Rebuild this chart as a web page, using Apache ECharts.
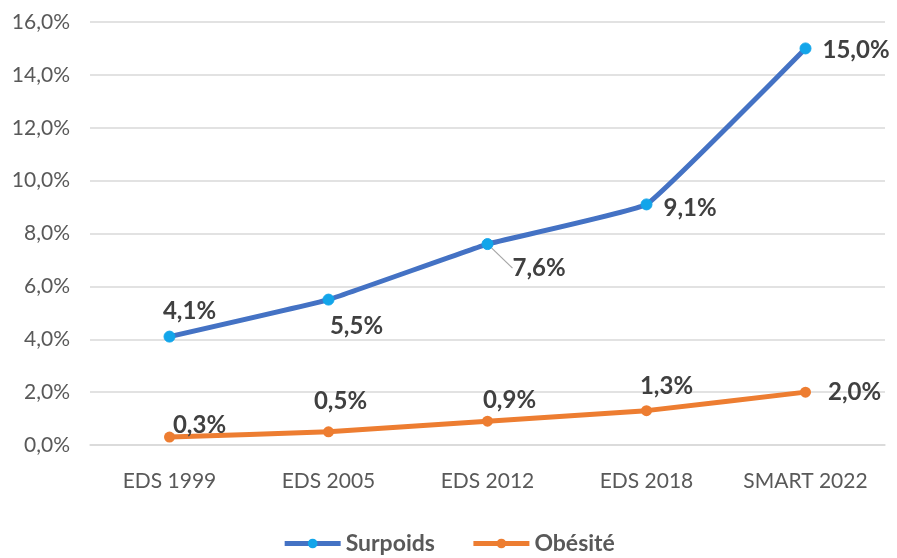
<!DOCTYPE html>
<html><head><meta charset="utf-8">
<script src="https://cdn.jsdelivr.net/npm/echarts@6/dist/echarts.min.js"></script>
<style>html,body{margin:0;padding:0;background:#fff}#c{width:897px;height:558px}</style>
</head><body><div id="c"></div>
<script>
const categories = ['EDS 1999','EDS 2005','EDS 2012','EDS 2018','SMART 2022'];
const surpoids = [4.1, 5.5, 7.6, 9.1, 15.0];
const obesite = [0.3, 0.5, 0.9, 1.3, 2.0];
const yTicks = {min: 0, max: 16, interval: 2};

const fmt = v => v.toFixed(1).replace('.', ',') + '%';
const FONT = 'Lato';
// per-point label placements (position + shift in px)
const surpLabel = [
  {position:'top', dx:20, dy:-2},
  {position:'bottom', dx:28, dy:4},
  {position:'right', dx:14, dy:24},
  {position:'right', dx:6, dy:4},
  {position:'right', dx:6, dy:2}
];
const obLabel = [
  {position:'top', dx:30, dy:11},
  {position:'top', dx:12, dy:-8},
  {position:'top', dx:22, dy:2},
  {position:'top', dx:20, dy:-2},
  {position:'right', dx:12, dy:0}
];
const chart = echarts.init(document.getElementById('c'));
const lblBase = {show:true, color:'#404040', fontWeight:'bold', fontSize:24, fontFamily:FONT,
  formatter: p => fmt(p.value)};
chart.setOption({
  animation:false,
  grid:{left:90, right:12, top:22, bottom:113},
  legend:{bottom:-2, left:'center', itemWidth:56, itemHeight:12, itemGap:36,
    lineStyle:{width:5},
    textStyle:{color:'#595959', fontSize:23, fontWeight:'bold', fontFamily:FONT},
    data:['Surpoids','Obésité']},
  xAxis:{type:'category', data:categories, boundaryGap:true,
    axisLine:{show:true, lineStyle:{color:'#D9D9D9', width:1.5}}, axisTick:{show:false},
    axisLabel:{color:'#595959', fontSize:21, fontFamily:FONT, margin:26, interval:0}},
  yAxis:{type:'value', min:yTicks.min, max:yTicks.max, interval:yTicks.interval,
    axisLine:{show:false}, axisTick:{show:false},
    splitLine:{lineStyle:{color:'#D9D9D9', width:1.5}},
    axisLabel:{color:'#595959', fontSize:21, fontFamily:FONT, margin:20, formatter: v => fmt(v)}},
  series:[
    {name:'Surpoids', type:'line', smooth:0.08, symbol:'circle', symbolSize:11,
      lineStyle:{color:'#4472C4', width:5}, itemStyle:{color:'#12A5EA', borderColor:'#12A5EA'},
      data: surpoids.map((v,i)=>({value:v, label:Object.assign({}, lblBase, {position:surpLabel[i].position}),
        labelLine: i===2 ? {show:true, lineStyle:{color:'#A6A6A6', width:1.2}} : {show:false}})),
      label: lblBase,
      labelLayout: p => ({dx:surpLabel[p.dataIndex].dx, dy:surpLabel[p.dataIndex].dy}),
      z:3},
    {name:'Obésité', type:'line', smooth:0.08, symbol:'circle', symbolSize:11,
      lineStyle:{color:'#ED7D31', width:5}, itemStyle:{color:'#ED7D31'},
      data: obesite.map((v,i)=>({value:v, label:Object.assign({}, lblBase, {position:obLabel[i].position})})),
      label: lblBase,
      labelLayout: p => ({dx:obLabel[p.dataIndex].dx, dy:obLabel[p.dataIndex].dy}),
      z:2}
  ]
});
</script></body></html>
